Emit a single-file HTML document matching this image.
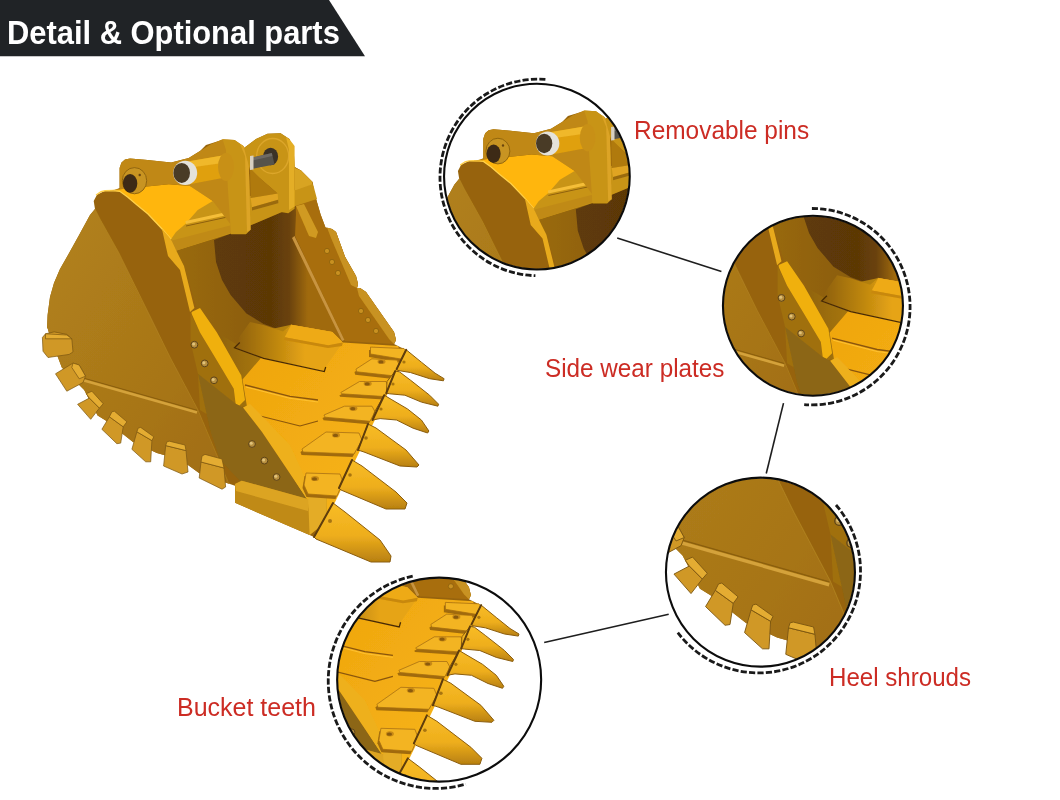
<!DOCTYPE html>
<html><head><meta charset="utf-8">
<style>
html,body{margin:0;padding:0;background:#fff;}
body{width:1060px;height:800px;position:relative;overflow:hidden;font-family:"Liberation Sans",sans-serif;}
svg{position:absolute;left:0;top:0;}
.lbl{position:absolute;color:#cc2c24;font-size:25.5px;white-space:nowrap;line-height:1;transform-origin:0 0;}
.ttl{position:absolute;color:#fff;font-weight:bold;font-size:32.5px;white-space:nowrap;line-height:1;transform-origin:0 0;transform:scaleX(0.95);}
</style></head>
<body>
<svg width="1060" height="800" viewBox="0 0 1060 800">
<defs>
<filter id="soft" x="-2%" y="-2%" width="104%" height="104%"><feGaussianBlur stdDeviation="0.35"/></filter>
<g id="bk">
  <linearGradient id="gBack" gradientUnits="userSpaceOnUse" x1="214" y1="0" x2="308" y2="0">
    <stop offset="0" stop-color="#5e3a08"/><stop offset="0.6" stop-color="#5c3806"/><stop offset="0.8" stop-color="#6a4208"/><stop offset="0.92" stop-color="#8a5a0a"/><stop offset="1" stop-color="#a06a0e"/>
  </linearGradient>
  <linearGradient id="gSideL" x1="0" y1="0" x2="1" y2="1">
    <stop offset="0" stop-color="#b2821c"/><stop offset="0.6" stop-color="#a87618"/><stop offset="1" stop-color="#a06c12"/>
  </linearGradient>
  <linearGradient id="gFloor" x1="0" y1="0" x2="1" y2="1">
    <stop offset="0" stop-color="#eea40e"/><stop offset="1" stop-color="#f8b618"/>
  </linearGradient>
  <linearGradient id="gTooth" x1="0" y1="0" x2="0" y2="1">
    <stop offset="0" stop-color="#f8bc26"/><stop offset="0.55" stop-color="#eeae1c"/><stop offset="1" stop-color="#b88010"/>
  </linearGradient>
  <linearGradient id="gSideWall" x1="0" y1="0" x2="1" y2="0">
    <stop offset="0" stop-color="#9a6a0e"/><stop offset="1" stop-color="#7e520a"/>
  </linearGradient>
  <!-- base silhouette -->
  <path d="M93.7,201 L97,194.7 L105,190.75 L113.5,190.5 L119.6,188 L119.6,168 L121.5,162.5 L125,159.5 L130,158.5 L145,159.7 L171.2,162.4 L188.7,158 L200,151 L206,145 L222,140 L236,143 L241.2,145.1 L244,148 L256,139 L267.5,133.7 L280.6,133.3 L289.4,139 L293.7,149.5 L294.6,167 L301,170.6 L312.5,182 L314,191.7 L320.6,214.5 L325.5,227.5 L332,229 L336,232 L345,256.7 L356,276 L358,284 L357,288 L360,288 L366,292 L394,332 L396,340 L394,344 L402,348 L410,356 L404,360 L396,372 L387,392 L384,396 L374,420 L368,424 L358,450 L352,460 L339,488 L333,503 L314,537 L309.6,535 L235,502.8 L235,485.8 L225.6,482.5 L199,473 L188,465 L165.7,455.5 L156.9,453.1 L133,442 L105.7,420.6 L97.6,415.6 L84.2,390 L79.2,385 L61.8,367.5 L58,357.5 L49.2,333.8 L47.4,327.5 L47,329 L47.6,315 L50,297 L54,283 L60,269 L68,255 L78,237 L90,215 L95,209 L93.7,201 Z" fill="#976409"/>
  <!-- left side plate, left part -->
  <path d="M95,209 L100,218.9 L118.9,252.8 L150,316 L170,357 L198,410 L229,484 L225.6,482.5 L199,473 L188,465 L165.7,455.5 L156.9,453.1 L133,442 L105.7,420.6 L97.6,415.6 L84.2,390 L79.2,385 L61.8,367.5 L58,357.5 L49.2,333.8 L47.4,327.5 L47,329 L47.6,315 L50,297 L54,283 L60,269 L68,255 L78,237 L90,215 Z" fill="url(#gSideL)"/>
  <path d="M95,209 L100,218.9 L118.9,252.8 L150,316 L170,357 L198,410 L229,484" stroke="#b88a28" stroke-width="0.8" fill="none" opacity="0.6"/>
  <!-- weld line -->
  <path d="M84,378.2 L197,410.2" stroke="#8a5e0c" stroke-width="1" fill="none"/>
  <path d="M84,380.5 L197,412.5" stroke="#d4a23a" stroke-width="2.6" fill="none"/>
  <!-- cavity side wall -->
  <path d="M172,252 L231,233.6 L250.6,225.3 L279,213.2 L296,205.7 L321,295 L344,344 L290,351 L243,358 L236,348 L220,334 L197,308 L184,266 Z" fill="url(#gSideWall)"/>
  <!-- back wall dark -->
  <path d="M214,240 L231,233.6 L250.6,225.3 L279,213.2 L296,205.7 L321,295 L343,343 L328,345 L291,324 L283,331 L263.6,324 L246.4,313.5 L230.6,295 L222,280 L216,262 Z" fill="url(#gBack)"/>
  <!-- right side plate inner face -->
  
  <!-- right side plate face -->
  <path d="M296,214 L294.6,167 L301,170.6 L312.5,182 L314,191.7 L320.6,214.5 L325.5,227.5 L332,229 L336,232 L345,256.7 L356,276 L358,284 L357,288 L360,288 L366,292 L394,332 L396,340 L394,344 L345,341 L295,236 Z" fill="#a86e0a"/>
  <path d="M295,168 L301,170.6 L312.5,182 L311,188.5 L295,191.7 Z" fill="#d8a424"/>
  <path d="M294.5,236 L344.5,340 L342,341 L292,238 Z" fill="#c89440"/>
  <path d="M327,227.5 L332,229 L336,232 L345,256.7 L356,276 L358,284 L357,288 L351,285 L331,238 Z" fill="#c89220"/>
  <path d="M357,288 L360,288 L366,292 L394,332 L396,340 L394,344 L389,339 L359,296 Z" fill="#c89220"/>
  <path d="M296,206 L304,204 L318,232 L316,238 L309,236 Z" fill="#d09a20"/>
  <!-- area between wear plate and floor -->
  <linearGradient id="gStep" x1="0" y1="0" x2="1" y2="0"><stop offset="0" stop-color="#8e620e"/><stop offset="1" stop-color="#b88410"/></linearGradient>
  <path d="M216.9,332.5 L236,344 L262,331 L291.3,324.7 L284.7,337.3 L266,352 L242.5,379.5 L247,407 L239.4,405.6 L241.3,375.6 Z" fill="url(#gStep)"/>
  <!-- floor -->
  <path d="M242.5,379.5 L266,352 L284.7,337.3 L291.3,324.7 L332.3,332 L342.8,342.5 L398,346 L404,360 L323,527 L307,501 L284,462 L247,407 Z" fill="url(#gFloor)"/>
  <linearGradient id="gStep2" gradientUnits="userSpaceOnUse" x1="236" y1="0" x2="305" y2="0"><stop offset="0" stop-color="#8e600c"/><stop offset="0.6" stop-color="#c08810"/><stop offset="1" stop-color="#e6a414"/></linearGradient>
  <path d="M234.5,347.8 L240,336 L250,322 L263.6,325 L283,331.5 L291.3,324.7 L332.3,332 L342.8,342.5 L325.7,367 L324.3,371.6 L263.6,358.4 Z" fill="url(#gStep2)"/>
  <path d="M291.3,324.7 L332.3,332 L342.8,342.5 L328.3,345.2 L284.7,337.3 Z" fill="#eeaa18"/>
  <path d="M284.7,337.3 L328.3,345.2 L342.8,342.5 L342,346 L328,348 L284,340 Z" fill="#c8880c"/>
  <path d="M239.8,342.5 L234.5,347.8 L263.6,358.4 L324.3,371.6 L325.7,367" stroke="#4a2c06" stroke-width="1.3" fill="none"/>
  <path d="M245,385 L290,396.3 L318,400" stroke="#8a5510" stroke-width="1.3" fill="none"/>
  <path d="M246,387 L290,398.3 L318,402" stroke="#ffc232" stroke-width="1" fill="none"/>
  <path d="M252,414 L300,426 L318,421" stroke="#8a5510" stroke-width="1.2" fill="none"/>
  <!-- top beam front face -->
  <path d="M105,190.75 L192.6,185 L212.8,201 L250,196 L296,190 L313,184 L317,199 L296,205.7 L279,213.2 L250.6,225.3 L231,233.6 L175,251 L171,239.2 L161.9,228.7 L148,214 L136.1,204.3 L127.6,197 L119.7,191.3 Z" fill="#c89418"/>
  <!-- top beam top face -->
  <path d="M105,190.75 L168.8,184.2 L190,186 L212.8,201 L197.7,210 L185.7,223.8 L176,232 L171,239.2 L161.9,228.7 L148,214 L136.1,204.3 L127.6,197 L119.7,191.3 Z" fill="#ffb60e"/>
  <path d="M96,195 L101,191.6 L105,190.75 L113.5,190.5 L119.7,191.3 L127.6,197 L136.1,204.3 L148,214 L161.9,228.7 L171,239.2" fill="none" stroke="#ffd04a" stroke-width="1.3"/>
  <path d="M172,240.4 L231,225.3 L231,232.8 L175,251 Z" fill="#c08a14"/>
  <path d="M185.7,222.5 L234,212" stroke="#f5be38" stroke-width="3.2" fill="none"/>
  <path d="M186,226 L234.5,215.5" stroke="#8e600e" stroke-width="1" fill="none"/>
  <path d="M250.6,198 L277.7,193.6 L279,199.6 L252,207.2 Z" fill="#e0a420"/>
  <path d="M252,207.2 L279,199.6 L279,203 L252,210.5 Z" fill="#9a6a10"/>
  <!-- ears -->
  <path d="M119.6,190 L119.6,168 L121.5,162.5 L125,159.5 L130,158.5 L145,159.7 L171.2,162.4 L188.7,158 L200,151 L210.4,144.4 L222.5,139.2 L234.6,140 L243.3,146.1 L248.5,154.8 L250.2,215 L231,225 L212.8,201 L190,186 L168.8,184.2 L108.7,190.4 Z" fill="#c08814"/>
  <path d="M222.5,139.2 L234.6,140 L243.3,146.1 L248.5,154.8 L250.6,229.8 L246,234.3 L231,234.3 L228,190 L226,150 Z" fill="#c89418"/>
  <path d="M240,144 L243.3,146.1 L248.5,154.8 L250.6,229.8 L247,232 L245,156 Z" fill="#dca426"/>
  <path d="M244,148 L256,139 L267.5,133.7 L280.6,133.3 L289.4,139 L293.7,149.5 L294.6,167 L294.6,208.7 L288.3,213.2 L279,211.7 L277.7,193.6 L262,180 L250,170 Z" fill="#c89418"/>
  <ellipse cx="272.7" cy="156" rx="16" ry="17.5" fill="none" stroke="#dca62a" stroke-width="1.4"/>
  <path d="M286,137 L290,140 L294.6,146 L294.6,206.4 L289,210 L289,150 Z" fill="#e4ae26"/>
  <path d="M250,168 L262,180 L277.7,193.6 L250.6,198 Z" fill="#b07a10"/>
  <!-- rod -->
  <ellipse cx="270.6" cy="156.5" rx="7.5" ry="8.7" fill="#3a3026"/>
  <path d="M252.6,157.4 L271.9,153 L274.5,164.4 L252.6,168.7 Z" fill="#56524c"/>
  <path d="M252.6,157.4 L271.9,153 L272.3,156 L252.6,160.5 Z" fill="#6e6a64"/>
  <path d="M250,156 L253.5,155.5 L253.5,169.5 L250,170 Z" fill="#d8d0c0"/>
  <!-- left pin ring -->
  <ellipse cx="134.5" cy="180.7" rx="12.2" ry="13.1" fill="#c89420"/>
  <ellipse cx="134.5" cy="180.7" rx="12.2" ry="13.1" fill="none" stroke="#8a600e" stroke-width="0.9"/>
  <ellipse cx="130.1" cy="183.4" rx="7.2" ry="9.4" fill="#3e2a12"/>
  <circle cx="139.7" cy="175" r="1.2" fill="#6a4410"/>
  <!-- white pin tube -->
  <path d="M186.1,161.7 L222.5,155.6 L222.5,178.1 L189.6,184.2 Z" fill="#e0a010"/>
  <path d="M186.1,161.7 L222.5,155.6 L222.5,163 L187,168 Z" fill="#f0b82a"/>
  <ellipse cx="226" cy="167" rx="8" ry="14" fill="#c89018"/>
  <ellipse cx="185.2" cy="172.9" rx="12" ry="12.2" fill="#e4e2da"/>
  <ellipse cx="181.7" cy="172.9" rx="8.3" ry="10" fill="#4a3a28"/>
  <!-- left side plate front edge strip -->
  <path d="M161.9,228.7 L171,239.2 L176,250 L184,266 L194.4,308 L190,312 L180,270 L168,256 Z" fill="#e8aa1c"/>
  <!-- side wear plate upper: bolt side face -->
  <path d="M190.6,313 L200,332.5 L216.9,360.6 L233.75,388.75 L235.6,403.75 L243,404 L236,432 L200,410 L198,373.75 L190.6,342 Z" fill="#a07010"/>
  <!-- wear plate bright face -->
  <path d="M191.6,311.9 L200,308 L216.9,332.5 L241.3,375.6 L245,400 L239.4,405.6 L235.6,403.75 L233.75,388.75 L216.9,360.6 L200,332.5 L191.6,313.75 Z" fill="#f0b010"/>
  <!-- bolt triangle face -->
  <path d="M198,373.75 L236,404 L243,407.5 L262,432 L307,499 L240,481 L220,460 L210,430 Z" fill="#8c6614"/>
  <!-- lower wear plate -->
  <path d="M243,407.5 L250,404 L290,445 L311,490 L307,499 L262,432 Z" fill="#eeb01c"/>
  <!-- corner block -->
  <path d="M235,484 L241.7,480.8 L309.6,499.4 L326.6,497.7 L326.6,521.5 L309.6,535 L235,502.8 Z" fill="#c08a16"/>
  <path d="M235,484 L241.7,480.8 L309.6,499.4 L308,511 L236,491 Z" fill="#dca424"/>
  <path d="M308,494 L326.6,497.7 L326.6,521.5 L309.6,535 Z" fill="#e4ac26"/>
  <!-- bolts -->
  <g fill="#b89040" stroke="#5e4418" stroke-width="1">
    <circle cx="194.4" cy="344.7" r="3.4"/><circle cx="204.7" cy="363.4" r="3.4"/><circle cx="214" cy="380.3" r="3.4"/>
    <circle cx="252" cy="444" r="3.4"/><circle cx="264.4" cy="460.6" r="3.4"/><circle cx="276.6" cy="477" r="3.4"/>
  </g>
  <g fill="#e0c27a">
    <circle cx="193.6" cy="344" r="1.5"/><circle cx="203.9" cy="362.7" r="1.5"/><circle cx="213.2" cy="379.6" r="1.5"/>
    <circle cx="251.2" cy="443.3" r="1.5"/><circle cx="263.6" cy="459.9" r="1.5"/><circle cx="275.8" cy="476.3" r="1.5"/>
  </g>
  <g fill="#c89020" stroke="#8a6010" stroke-width="0.8">
    <circle cx="327" cy="251" r="2.6"/><circle cx="332" cy="262" r="2.6"/><circle cx="338" cy="273" r="2.6"/>
    <circle cx="361" cy="311" r="2.6"/><circle cx="368" cy="320" r="2.6"/><circle cx="376" cy="331" r="2.6"/>
  </g>
  <!-- adapters -->
  <polygon points="369.0,350.1 402.5,351.5 405.5,355.6 399.5,362 369.0,357" fill="#a06a0c"/>
  <polygon points="370.5,347.1 404,348.5 407,352.6 401,359 370.5,354" fill="#f3b420" stroke="#a87010" stroke-width="0.8"/>
  <polygon points="370.4,361.8 395.5,363.1 398.5,369.3 393.5,379 355.2,374.8 354.5,372.1" fill="#a06a0c"/>
  <polygon points="371.9,358.8 397,360.1 400,366.3 395,376 356.7,371.8 356,369.1" fill="#f3b420" stroke="#a87010" stroke-width="0.8"/>
  <ellipse cx="381.5" cy="361.5" rx="4" ry="2.6" fill="#c88a14"/>
  <ellipse cx="381.0" cy="361.9" rx="2.6" ry="1.6" fill="#8a5a10"/>
  <polygon points="358.0,384.5 384.5,384.5 387.5,391.3 383.5,399.6 340.1,396.8 339.4,395.5" fill="#a06a0c"/>
  <polygon points="359.5,381.5 386,381.5 389,388.3 385,396.6 341.6,393.8 340.9,392.5" fill="#f3b420" stroke="#a87010" stroke-width="0.8"/>
  <ellipse cx="367.7" cy="383.5" rx="4" ry="2.6" fill="#c88a14"/>
  <ellipse cx="367.2" cy="383.9" rx="2.6" ry="1.6" fill="#8a5a10"/>
  <polygon points="342.9,409.2 370.5,409.2 373.5,414.7 368.5,424.3 323.6,420.2 322.5,418" fill="#a06a0c"/>
  <polygon points="344.4,406.2 372,406.2 375,411.7 370,421.3 325.1,417.2 324,415" fill="#f3b420" stroke="#a87010" stroke-width="0.8"/>
  <ellipse cx="353.3" cy="408.3" rx="4" ry="2.6" fill="#c88a14"/>
  <ellipse cx="352.8" cy="408.7" rx="2.6" ry="1.6" fill="#8a5a10"/>
  <polygon points="324.5,435 357.5,436 360.5,443 352.5,457 301.5,455 300.5,452" fill="#a06a0c"/>
  <polygon points="326,432 359,433 362,440 354,454 303,452 302,449" fill="#f3b420" stroke="#a87010" stroke-width="0.8"/>
  <ellipse cx="336" cy="435" rx="4" ry="2.6" fill="#c88a14"/>
  <ellipse cx="335.5" cy="435.4" rx="2.6" ry="1.6" fill="#8a5a10"/>
  <polygon points="304.5,476 338.5,477 341.5,485 335.5,499 306.5,497 302.5,488" fill="#a06a0c"/>
  <polygon points="306,473 340,474 343,482 337,496 308,494 304,485" fill="#f3b420" stroke="#a87010" stroke-width="0.8"/>
  <ellipse cx="315" cy="478.5" rx="4" ry="2.6" fill="#c88a14"/>
  <ellipse cx="314.5" cy="478.9" rx="2.6" ry="1.6" fill="#8a5a10"/>
  <!-- teeth -->
  <g fill="url(#gTooth)" stroke="#8a5c0e" stroke-width="1">
    <path d="M406.2,349.8 L421.4,362.2 L435.1,373.2 L444.1,378.7 L443.4,380.8 L429.6,378.7 L410.4,372.5 L398,370.5 L396.6,369.1 L400.1,362.2 Z"/>
    <path d="M395.2,371.1 L399.4,371.8 L410.4,380.1 L429.6,395.2 L438.6,404.2 L437.9,406.2 L421.4,402.1 L404.9,395.2 L389.7,393.8 L386.3,393.2 L387,381.5 Z"/>
    <path d="M384.2,395.2 L391.1,399.3 L407.6,409 L421.4,420 L428.9,431 L427.6,433 L413.1,428.2 L396.6,420 L380.1,418.6 L372.5,420 L374.6,411.7 Z"/>
    <path d="M368,424 L376,428 L406,450 L419,465 L417,467 L400,466 L364,452 L358,450 Z"/>
    <path d="M352,460 L362,466 L396,492 L407,503 L405,509 L386,509 L341,490 L339,488 Z"/>
    <path d="M333,503 L345,512 L380,540 L391,556 L390,562 L371,562 L316,539 L314,537 Z"/>
  </g>
  <g stroke="#5e3c08" stroke-width="2" stroke-linecap="round">
    <path d="M406.2,349.8 L396.6,369.1"/><path d="M395.2,371.1 L386.3,393.2"/><path d="M384.2,395.2 L372.5,420"/>
    <path d="M368,424 L358,450"/><path d="M352,460 L339,488"/><path d="M333,503 L314,537"/>
  </g>
  <g fill="#a87410">
    <circle cx="404" cy="362" r="1.6"/><circle cx="393" cy="384" r="1.6"/><circle cx="381" cy="409" r="1.6"/>
    <circle cx="366" cy="438" r="1.8"/><circle cx="350" cy="475" r="1.8"/><circle cx="330" cy="521" r="2"/>
  </g>
  <!-- heel shrouds -->
  <g stroke="#7a5510" stroke-width="0.7">
    <path d="M42.4,337.5 L45.5,333.8 L54.2,331.9 L66.8,334.4 L71.8,338.8 L73,351.9 L69.2,354.4 L48,357.5 L43,351.2 Z" fill="#d09828"/>
    <path d="M45.5,333.8 L66.8,335 L71.8,338.8 L45.5,338.8 Z" fill="#e4ac30"/>
    <path d="M55.5,373.8 L73,363.1 L79.2,365 L85.5,376.2 L83,382.5 L66.8,391.2 Z" fill="#d09828"/>
    <path d="M73,363.1 L79.2,365 L85.5,376.2 L79.2,378.8 L71.8,367.5 Z" fill="#e4ac30"/>
    <path d="M77.6,404.3 L89.4,398.1 L99.4,408.1 L90.7,419.3 Z" fill="#d09828"/>
    <path d="M86.3,393.7 L91.9,391.2 L103.2,403.7 L99.4,408.1 L89.4,398.1 Z" fill="#e4ac30"/>
    <path d="M101.9,429.3 L109.4,416.8 L123.2,426.8 L120.7,443.1 L116.9,443.7 Z" fill="#d09828"/>
    <path d="M111.9,411.8 L114.4,411.2 L126.9,421.8 L123.2,426.8 L109.4,416.8 Z" fill="#e4ac30"/>
    <path d="M131.9,449.3 L136.9,431.8 L151.9,440.6 L150.7,461.8 L145.7,461.8 Z" fill="#d09828"/>
    <path d="M138.2,428.1 L140.7,427.4 L153.8,436.8 L151.9,440.6 L136.9,431.8 Z" fill="#e4ac30"/>
    <path d="M163.6,466 L165.7,445.6 L186,450.6 L188,472 L182,474 Z" fill="#d09828"/>
    <path d="M166.9,441.8 L169.4,441.2 L185,445 L186,450.6 L165.7,445.6 Z" fill="#e4ac30"/>
    <path d="M199.2,478 L201,462 L224,468 L225.6,487 L222,489.2 Z" fill="#d09828"/>
    <path d="M202,456 L205,454.4 L222,459 L224,468 L201,462 Z" fill="#e4ac30"/>
  </g>
</g>

<clipPath id="c1"><circle cx="536.9" cy="176.6" r="92.35"/></clipPath>
<clipPath id="c2"><circle cx="812.95" cy="305.7" r="89.5"/></clipPath>
<clipPath id="c3"><circle cx="760.45" cy="572.15" r="94.0"/></clipPath>
<clipPath id="c4"><circle cx="439.15" cy="679.65" r="101.5"/></clipPath>
</defs>
<polygon points="0,0 329,0 365,56.3 0,56.3" fill="#202326"/>
<use href="#bk" filter="url(#soft)"/>
<g stroke="#1e1e1e" stroke-width="1.6" fill="none">
  <line x1="617.2" y1="237.9" x2="721.4" y2="271.6"/>
  <line x1="783.5" y1="403.1" x2="766.25" y2="473.5"/>
  <line x1="544.2" y1="642.5" x2="668.7" y2="614.2"/>
</g>
<g clip-path="url(#c1)"><g transform="matrix(0.98,0,0,0.98,366.1,-26)"><use href="#bk" filter="url(#soft)"/></g></g>
<circle cx="536.9" cy="176.6" r="92.85" fill="none" stroke="#0c0c0c" stroke-width="2.1"/>
<path d="M545.4,79.4 A98.3,98.3 0 1 0 535.4,275.7" fill="none" stroke="#1a1a1a" stroke-width="2.8" stroke-dasharray="6.2 2.2"/>
<g clip-path="url(#c2)"><g transform="matrix(1,0,0,1,587.1,-46.8)"><use href="#bk" filter="url(#soft)"/></g></g>
<circle cx="812.95" cy="305.7" r="90" fill="none" stroke="#0c0c0c" stroke-width="2.1"/>
<path d="M811.9,208.5 A98.2,98.2 0 1 1 804.2,404.6" fill="none" stroke="#1a1a1a" stroke-width="2.8" stroke-dasharray="6.2 2.2"/>
<g clip-path="url(#c3)"><g transform="matrix(1.3,0,0,1.3,573.1,48.5)"><use href="#bk" filter="url(#soft)"/></g></g>
<circle cx="760.45" cy="572.15" r="94.5" fill="none" stroke="#0c0c0c" stroke-width="2.1"/>
<path d="M836.0,505.0 A101.7,101.7 0 1 1 677.8,632.7" fill="none" stroke="#1a1a1a" stroke-width="2.8" stroke-dasharray="6.2 2.2"/>
<g clip-path="url(#c4)"><g transform="matrix(1,0,0,1,74.9,255.3)"><use href="#bk" filter="url(#soft)"/></g></g>
<circle cx="439.15" cy="679.65" r="102" fill="none" stroke="#0c0c0c" stroke-width="2.1"/>
<path d="M412.7,576.1 A107.4,107.4 0 1 0 465.8,784.1" fill="none" stroke="#1a1a1a" stroke-width="2.8" stroke-dasharray="6.2 2.2"/>
</svg>
<div class="ttl" style="left:6.6px;top:16.7px;">Detail &amp; Optional parts</div>
<div class="lbl" style="left:633.5px;top:118px;transform:scaleX(0.958);">Removable pins</div>
<div class="lbl" style="left:545.2px;top:356px;transform:scaleX(0.952);">Side wear plates</div>
<div class="lbl" style="left:828.5px;top:665px;transform:scaleX(0.945);">Heel shrouds</div>
<div class="lbl" style="left:177px;top:695px;transform:scaleX(0.98);">Bucket teeth</div>
</body></html>
